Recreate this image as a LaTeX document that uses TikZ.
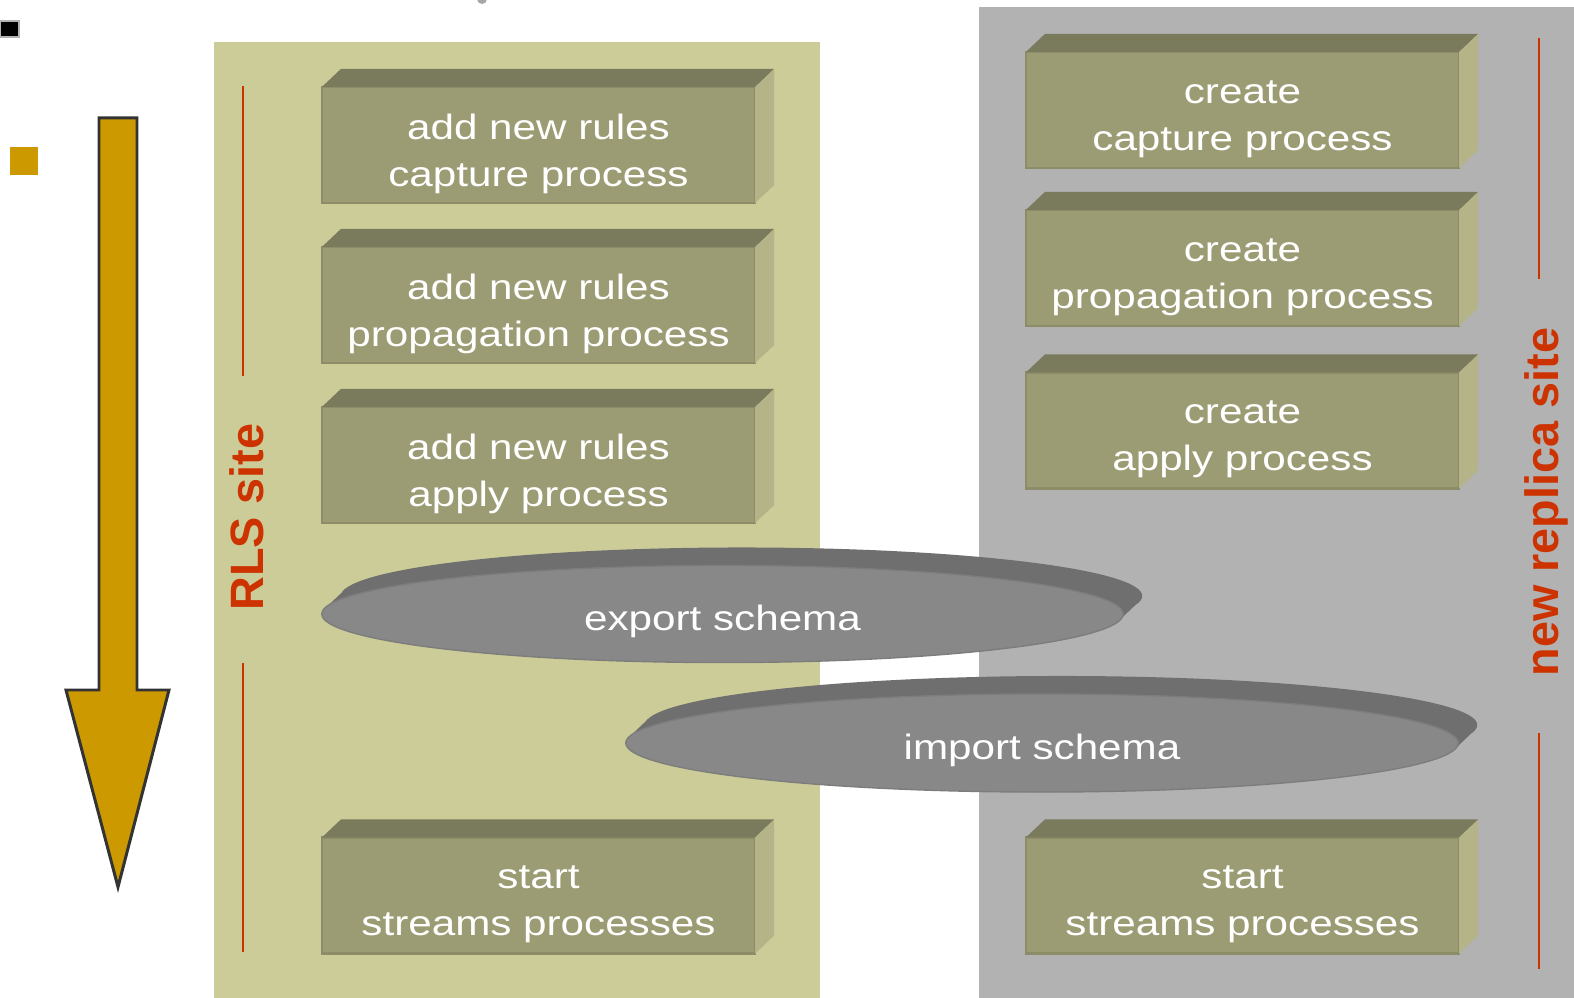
\documentclass[tikz,border=0pt]{standalone}
\usepackage{fontspec}
\setmainfont{Liberation Sans}[FakeStretch=1.2]
\newfontfamily\sitefont{Liberation Sans}
\definecolor{rlsbg}{HTML}{CCCC99}
\definecolor{replbg}{HTML}{B2B2B2}
\definecolor{slabfront}{HTML}{9C9C74}
\definecolor{slabtopc}{HTML}{7A7A5C}
\definecolor{slabsidec}{HTML}{B4B488}
\definecolor{slabedge}{HTML}{8C8C68}
\definecolor{discfront}{HTML}{888888}
\definecolor{discrim}{HTML}{6F6F6F}
\definecolor{sitered}{HTML}{CC3300}
\definecolor{gold}{HTML}{CC9900}

% front face as node, top and side faces behind the corners
\newcommand{\slab}[3]{%
  \node[slabface] (#1) at (#2) {};
  \fill[slabtop] (#1.north west) -- ++(19,-18) -- ([shift={(19,-18)}]#1.north east) -- (#1.north east) -- cycle;
  \fill[slabside] (#1.north east) -- ++(19,-18) -- ([shift={(19,-18)}]#1.south east) -- (#1.south east) -- cycle;
  \node[slabtext] (#1-t) at ([yshift=-0.09cm]#1.center) {#3};
}

\begin{document}
\begin{tikzpicture}[x=0.01cm, y=-0.01cm,
  slabface/.style={rectangle, minimum width=4.33cm, minimum height=1.16cm, inner sep=0pt, outer sep=0pt,
                   fill=slabfront, draw=slabedge, line width=0.6pt},
  slabtop/.style={fill=slabtopc},
  slabside/.style={fill=slabsidec},
  slabtext/.style={align=center, text=white, font=\fontsize{10}{13.4}\selectfont},
  disctext/.style={text=white, font=\fontsize{10}{13.4}\selectfont},
  site/.style={rotate=90, text=sitered, font=\sitefont\bfseries\fontsize{13.3}{16}\selectfont},
  siteline/.style={draw=sitered, line width=0.8pt},
]
\useasboundingbox (0,0) rectangle (1574,998);
\fill[white] (0,0) rectangle (1574,998);

% the two sites
\fill[rlsbg] (214,42) rectangle (820,998);
\fill[replbg] (979,7) rectangle (1574,998);

% bullets and time arrow
\filldraw[fill=black, draw=black!30, line width=0.4pt] (0,21) rectangle (19,37);
\fill[gold] (10,147) rectangle (38,175);
\fill[black!35] (482,-1) circle[radius=0.05cm];
\filldraw[fill=gold, draw=black!80, line width=0.85pt, line join=miter]
  (99,118) -- (137,118) -- (137,690) -- (169,690) -- (118,887) -- (66,690) -- (99,690) -- cycle;

% RLS site steps
\slab{capRules}{538.5,145}{add new rules\\capture process}
\slab{propRules}{538.5,305}{add new rules\\propagation process}
\slab{applyRules}{538.5,465}{add new rules\\apply process}
\slab{startRls}{538.5,895.5}{start\\streams processes}

% new replica site steps
\slab{capNew}{1242.5,110}{create\\capture process}
\slab{propNew}{1242.5,268}{create\\propagation process}
\slab{applyNew}{1242.5,430.5}{create\\apply process}
\slab{startNew}{1242.5,895.5}{start\\streams processes}

% export / import discs
\fill[discrim] (741.5,596) ellipse [x radius=4.005cm, y radius=0.485cm];
\fill[discrim] (325.8,607.7) -- (1119.2,620.3) -- (1138.2,602.3) -- (344.8,589.7) -- cycle;
\filldraw[fill=discfront, draw=discrim!90, line width=0.4pt] (722.5,614) ellipse [x radius=4.005cm, y radius=0.485cm];
\node[disctext] (expSchema) at (722.5,621) {export schema};

\fill[discrim] (1061,725) ellipse [x radius=4.16cm, y radius=0.49cm];
\fill[discrim] (629.2,737) -- (1454.8,749) -- (1473.8,731) -- (648.2,719) -- cycle;
\filldraw[fill=discfront, draw=discrim!90, line width=0.4pt] (1042,743) ellipse [x radius=4.16cm, y radius=0.49cm];
\node[disctext] (impSchema) at (1042,750) {import schema};

% site labels
\node[site] (rls) at (246.5,517) {RLS site};
\node[site] (repl) at (1546,502) {new replica site};
\coordinate (rlsA) at (243,86);  \coordinate (rlsB) at (243,376);
\coordinate (rlsC) at (243,663); \coordinate (rlsD) at (243,952);
\coordinate (replA) at (1539,38);  \coordinate (replB) at (1539,279);
\coordinate (replC) at (1539,733); \coordinate (replD) at (1539,969);
\draw[siteline] (rlsA) -- (rlsB); \draw[siteline] (rlsC) -- (rlsD);
\draw[siteline] (replA) -- (replB); \draw[siteline] (replC) -- (replD);
\end{tikzpicture}
\end{document}
